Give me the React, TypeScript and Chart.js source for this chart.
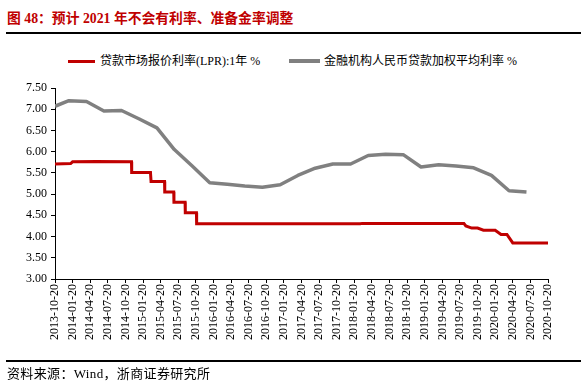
import React, { useEffect, useRef } from 'react';
import { Chart, registerables } from 'chart.js';

Chart.register(...registerables);

// Quarterly x-axis tick labels
const xTickLabels: string[] = [
  '2013-10-20', '2014-01-20', '2014-04-20', '2014-07-20', '2014-10-20',
  '2015-01-20', '2015-04-20', '2015-07-20', '2015-10-20',
  '2016-01-20', '2016-04-20', '2016-07-20', '2016-10-20',
  '2017-01-20', '2017-04-20', '2017-07-20', '2017-10-20',
  '2018-01-20', '2018-04-20', '2018-07-20', '2018-10-20',
  '2019-01-20', '2019-04-20', '2019-07-20', '2019-10-20',
  '2020-01-20', '2020-04-20', '2020-07-20', '2020-10-20',
];

// 贷款市场报价利率(LPR):1年 %
const lprDates: string[] = [
  '2013-10-20', '2014-01-10', '2014-01-20', '2014-05-20', '2014-11-21', '2014-11-22',
  '2015-02-28', '2015-03-01', '2015-05-10', '2015-05-11', '2015-06-27', '2015-06-28',
  '2015-08-25', '2015-08-26', '2015-10-23', '2015-10-24', '2018-02-20', '2018-03-01',
  '2019-08-10', '2019-08-20', '2019-09-20', '2019-10-20', '2019-11-20', '2019-12-20',
  '2020-01-20', '2020-02-20', '2020-03-20', '2020-04-20', '2020-10-20',
];
const lprValues: number[] = [
  5.71, 5.72, 5.76, 5.77, 5.76, 5.51,
  5.51, 5.30, 5.30, 5.05, 5.05, 4.81,
  4.81, 4.56, 4.56, 4.30, 4.30, 4.31,
  4.31, 4.25, 4.20, 4.20, 4.15, 4.15,
  4.15, 4.05, 4.05, 3.85, 3.85,
];

// 金融机构人民币贷款加权平均利率 %
const loanRateDates: string[] = [
  '2013-10-20', '2013-12-31', '2014-03-31', '2014-06-30', '2014-09-30',
  '2014-12-31', '2015-03-31', '2015-06-30', '2015-09-30', '2015-12-31',
  '2016-03-31', '2016-06-30', '2016-09-30', '2016-12-31', '2017-03-31',
  '2017-06-30', '2017-09-30', '2017-12-31', '2018-03-31', '2018-06-30',
  '2018-09-30', '2018-12-31', '2019-03-31', '2019-06-30', '2019-09-30',
  '2019-12-31', '2020-03-31', '2020-06-30',
];
const loanRateValues: number[] = [
  7.07, 7.20, 7.18, 6.96, 6.97,
  6.77, 6.56, 6.05, 5.67, 5.27,
  5.23, 5.19, 5.16, 5.22, 5.44,
  5.61, 5.71, 5.71, 5.91, 5.94,
  5.93, 5.64, 5.69, 5.66, 5.62,
  5.44, 5.08, 5.05,
];

const seriesNames = ['贷款市场报价利率(LPR):1年 %', '金融机构人民币贷款加权平均利率 %'];

function monthIndex(d: string): number {
  const [y, m, day] = d.split('-').map(Number);
  return (y - 2013) * 12 + (m - 10) + (day - 20) / 30;
}

const RED = '#C00000';
const GRAY = '#808080';
const SERIF = '"Liberation Serif", "Times New Roman", "Noto Sans CJK SC", serif';

export default function App() {
  const canvasRef = useRef<HTMLCanvasElement | null>(null);

  useEffect(() => {
    if (!canvasRef.current) return;
    const tickFont = { family: SERIF, size: 12 };
    const chart = new Chart(canvasRef.current, {
      type: 'line',
      data: {
        datasets: [
          {
            label: seriesNames[0],
            data: lprDates.map((d, i) => ({ x: monthIndex(d), y: lprValues[i] })),
            borderColor: RED,
            backgroundColor: RED,
            borderWidth: 3,
            pointRadius: 0,
            tension: 0,
            borderJoinStyle: 'miter',
          },
          {
            label: seriesNames[1],
            data: loanRateDates.map((d, i) => ({ x: monthIndex(d), y: loanRateValues[i] })),
            borderColor: GRAY,
            backgroundColor: GRAY,
            borderWidth: 3.5,
            pointRadius: 0,
            tension: 0,
            borderJoinStyle: 'round',
          },
        ],
      },
      options: {
        animation: false,
        responsive: false,
        maintainAspectRatio: false,
        layout: { padding: { left: 8, right: 37, top: 88, bottom: 37 } },
        plugins: {
          legend: { display: false },
          tooltip: { enabled: false },
        },
        scales: {
          x: {
            type: 'linear',
            min: 0,
            max: (xTickLabels.length - 1) * 3,
            afterFit: (s: any) => { s.height = 70; },
            afterBuildTicks: (s: any) => {
              s.ticks = xTickLabels.map((_, i) => ({ value: i * 3 }));
            },
            grid: { drawOnChartArea: false, drawTicks: true, tickLength: 4, color: '#000' },
            border: { display: true, color: '#000', width: 1 },
            ticks: {
              autoSkip: false,
              minRotation: 90,
              maxRotation: 90,
              padding: 1,
              color: '#000',
              font: tickFont,
              callback: (v: any) => xTickLabels[Math.round(Number(v) / 3)] ?? '',
            },
          },
          y: {
            min: 3,
            max: 7.5,
            afterFit: (s: any) => { s.width = 47; },
            grid: { drawOnChartArea: false, drawTicks: true, tickLength: 4, color: '#000' },
            border: { display: true, color: '#000', width: 1 },
            ticks: {
              stepSize: 0.5,
              padding: 4,
              color: '#000',
              font: tickFont,
              callback: (v: any) => Number(v).toFixed(2),
            },
          },
        },
      },
    } as any);
    return () => chart.destroy();
  }, []);

  const abs = (o: React.CSSProperties): React.CSSProperties => ({ position: 'absolute', margin: 0, whiteSpace: 'nowrap', ...o });

  return (
    <div style={{ position: 'absolute', left: 0, top: 0, width: 585, height: 386, background: '#fff', overflow: 'hidden' }}>
      <div style={abs({ left: 7, top: 12, fontSize: 13.8, lineHeight: '14px', fontWeight: 'bold', color: RED, fontFamily: SERIF })}>
        图 48：预计 2021 年不会有利率、准备金率调整
      </div>
      <div style={abs({ left: 6, top: 32, width: 575, height: 1.5, background: '#000' })} />

      <div style={abs({ left: 68, top: 59.5, width: 27, height: 3.5, background: RED })} />
      <div style={abs({ left: 100, top: 55, fontSize: 12, lineHeight: '12px', color: '#000', fontFamily: SERIF })}>
        {seriesNames[0]}
      </div>
      <div style={abs({ left: 289, top: 59.25, width: 31, height: 4, background: GRAY })} />
      <div style={abs({ left: 324, top: 55, fontSize: 12, lineHeight: '12px', color: '#000', fontFamily: SERIF })}>
        {seriesNames[1]}
      </div>

      <canvas ref={canvasRef} width={585} height={386} style={{ position: 'absolute', left: 0, top: 0, width: 585, height: 386 }} />

      <div style={abs({ left: 6, top: 360, width: 575, height: 1.5, background: '#000' })} />
      <div style={abs({ left: 7, top: 367, fontSize: 13, lineHeight: '13px', letterSpacing: '0.35px', color: '#000', fontFamily: SERIF })}>
        资料来源：Wind，浙商证券研究所
      </div>
    </div>
  );
}
